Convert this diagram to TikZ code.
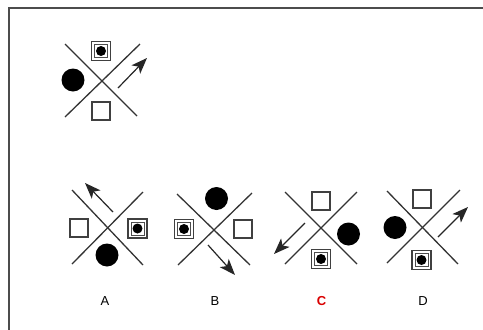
\documentclass[tikz,border=0pt]{standalone}
\usepackage{fontspec}
\setmainfont{Liberation Sans}
\usetikzlibrary{arrows.meta}
\begin{document}
\begin{tikzpicture}[x=1pt,y=-1pt,
 xl/.style={draw=black!80, line width=1.3pt},
 esq/.style={draw=black!75, line width=1.8pt, minimum size=18pt, inner sep=0pt, fill=white},
 dsq/.style={draw=black!75, line width=1.3pt, minimum size=19pt, inner sep=0pt, fill=white,
   path picture={
     \draw[black!70, line width=0.9pt] ([xshift=-6.5pt,yshift=-6.5pt]path picture bounding box.center) rectangle ([xshift=6.5pt,yshift=6.5pt]path picture bounding box.center);
     \fill[black] (path picture bounding box.center) circle (5pt);}},
 blob/.style={circle, fill=black, minimum size=23pt, inner sep=0pt},
 arr/.style={draw=black!85, line width=1.2pt, -{Stealth[length=16pt,width=12pt,inset=4pt]}},
 lab/.style={font=\fontsize{13}{15}\selectfont, inner sep=0pt},
 frame/.style={draw=black!70, line width=2pt}]
\useasboundingbox (0,0) rectangle (483,330);
\coordinate (f-bl) at (8.5,330);
\coordinate (f-tl) at (8.5,7.5);
\coordinate (f-tr) at (483,7.5);
\draw[frame] (f-bl) -- (f-tl) -- (f-tr);

% top figure
\begin{scope}[shift={(102,82)}]
 \coordinate (t-nw) at (-37,-38); \coordinate (t-se) at (35,34);
 \coordinate (t-ne) at (38,-38); \coordinate (t-sw) at (-37,35);
 \draw[xl] (t-nw) -- (t-se); \draw[xl] (t-ne) -- (t-sw);
 \node[dsq] (t-n) at (-1,-31) {};
 \node[esq] (t-s) at (-1,29) {};
 \node[blob] (t-w) at (-29,-2) {};
 \coordinate (t-a1) at (16,6); \coordinate (t-a2) at (45,-24);
 \draw[arr] (t-a1) -- (t-a2);
\end{scope}

% A
\begin{scope}[shift={(108,228)}]
 \coordinate (a-nw) at (-36,-38); \coordinate (a-se) at (35,37);
 \coordinate (a-ne) at (35,-36); \coordinate (a-sw) at (-36,36);
 \draw[xl] (a-nw) -- (a-se); \draw[xl] (a-ne) -- (a-sw);
 \node[esq] (a-w) at (-29,0) {};
 \node[dsq] (a-e) at (29.5,0.5) {};
 \node[blob] (a-s) at (-1,27) {};
 \coordinate (a-a1) at (5,-16); \coordinate (a-a2) at (-23,-45);
 \draw[arr] (a-a1) -- (a-a2);
 \node[lab] (a-l) at (-3,73) {A};
\end{scope}

% B
\begin{scope}[shift={(215,228)}]
 \coordinate (b-nw) at (-38,-34); \coordinate (b-se) at (35,37);
 \coordinate (b-ne) at (37,-35); \coordinate (b-sw) at (-37,37);
 \draw[xl] (b-nw) -- (b-se); \draw[xl] (b-ne) -- (b-sw);
 \node[blob] (b-n) at (1.5,-29.5) {};
 \node[dsq] (b-w) at (-31,1) {};
 \node[esq] (b-e) at (28,1) {};
 \coordinate (b-a1) at (-7,17); \coordinate (b-a2) at (20,47);
 \draw[arr] (b-a1) -- (b-a2);
 \node[lab] (b-l) at (0,73) {B};
\end{scope}

% C
\begin{scope}[shift={(321,228)}]
 \coordinate (c-nw) at (-36,-36); \coordinate (c-se) at (36,36);
 \coordinate (c-ne) at (36,-36); \coordinate (c-sw) at (-36,36);
 \draw[xl] (c-nw) -- (c-se); \draw[xl] (c-ne) -- (c-sw);
 \node[esq] (c-n) at (0,-27) {};
 \node[blob] (c-e) at (27.5,6) {};
 \node[dsq] (c-s) at (0,31) {};
 \coordinate (c-a1) at (-16,-5); \coordinate (c-a2) at (-47,26);
 \draw[arr] (c-a1) -- (c-a2);
 \node[lab, text=red!85!black] (c-l) at (0.5,73) {\textbf{C}};
\end{scope}

% D
\begin{scope}[shift={(423,228)}]
 \coordinate (d-nw) at (-36,-37); \coordinate (d-se) at (35,36);
 \coordinate (d-ne) at (37,-38); \coordinate (d-sw) at (-36,35);
 \draw[xl] (d-nw) -- (d-se); \draw[xl] (d-ne) -- (d-sw);
 \node[esq] (d-n) at (-1,-29) {};
 \node[blob] (d-w) at (-28,-0.5) {};
 \node[dsq] (d-s) at (-1.5,32) {};
 \coordinate (d-a1) at (15,9); \coordinate (d-a2) at (45,-21);
 \draw[arr] (d-a1) -- (d-a2);
 \node[lab] (d-l) at (0,73) {D};
\end{scope}
\end{tikzpicture}
\end{document}
